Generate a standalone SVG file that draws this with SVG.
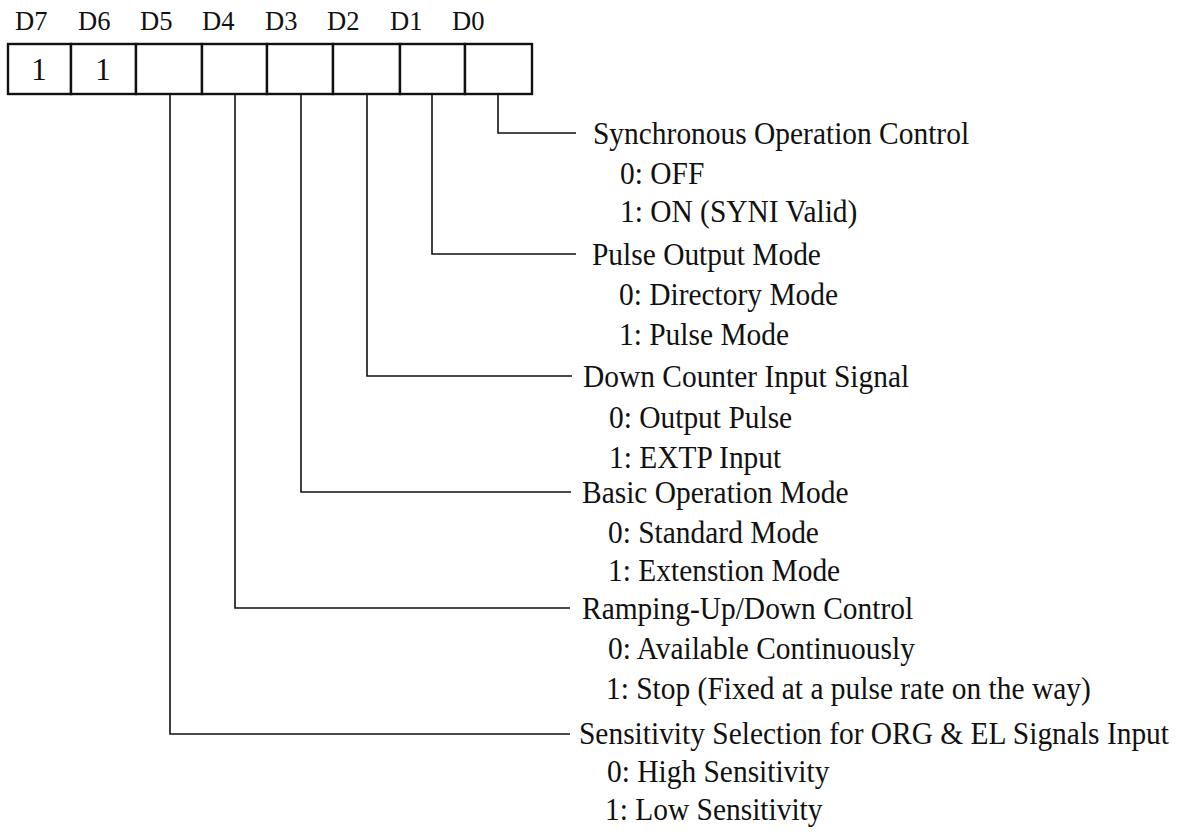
<svg xmlns="http://www.w3.org/2000/svg" width="1201" height="836" viewBox="0 0 1201 836">
<style>
text{font-family:"Liberation Serif","Times New Roman",serif;fill:#111;}
.lbl{font-size:28px;}
.t{font-size:31px;}
.bit{font-size:31px;text-anchor:middle;}
.cell{fill:#fff;stroke:#111;stroke-width:2.4;}
.wire{fill:none;stroke:#111;stroke-width:1.6;}
</style>
<rect width="1201" height="836" fill="#fff"/>
<g id="register">
<g id="labels">
<text class="lbl" transform="translate(15,30) scale(0.95,1)">D7</text>
<text class="lbl" transform="translate(78,30) scale(0.95,1)">D6</text>
<text class="lbl" transform="translate(140,30) scale(0.95,1)">D5</text>
<text class="lbl" transform="translate(202,30) scale(0.95,1)">D4</text>
<text class="lbl" transform="translate(265,30) scale(0.95,1)">D3</text>
<text class="lbl" transform="translate(327,30) scale(0.95,1)">D2</text>
<text class="lbl" transform="translate(390,30) scale(0.95,1)">D1</text>
<text class="lbl" transform="translate(452,30) scale(0.95,1)">D0</text>
</g>
<g id="bit-D7"><rect class="cell" x="8" y="44" width="63" height="50"/><text class="bit" x="39" y="80">1</text></g>
<g id="bit-D6"><rect class="cell" x="71" y="44" width="65" height="50"/><text class="bit" x="103" y="80">1</text></g>
<g id="bit-D5"><rect class="cell" x="136" y="44" width="66" height="50"/></g>
<g id="bit-D4"><rect class="cell" x="202" y="44" width="65" height="50"/></g>
<g id="bit-D3"><rect class="cell" x="267" y="44" width="66" height="50"/></g>
<g id="bit-D2"><rect class="cell" x="333" y="44" width="67" height="50"/></g>
<g id="bit-D1"><rect class="cell" x="400" y="44" width="65" height="50"/></g>
<g id="bit-D0"><rect class="cell" x="465" y="44" width="67" height="50"/></g>
</g>
<g id="connectors">
<polyline class="wire" points="498,94 498,133 576,133"/>
<polyline class="wire" points="432,94 432,254 576,254"/>
<polyline class="wire" points="367,94 367,376 572,376"/>
<polyline class="wire" points="301,94 301,492 571,492"/>
<polyline class="wire" points="235,94 235,608 570,608"/>
<polyline class="wire" points="170,94 170,734 570,734"/>
</g>
<g id="desc-D0">
<text class="t" transform="translate(593,144) scale(0.95,1)">Synchronous Operation Control</text>
<text class="t" transform="translate(620,184) scale(0.95,1)">0: OFF</text>
<text class="t" transform="translate(620,222) scale(0.95,1)">1: ON (SYNI Valid)</text>
</g>
<g id="desc-D1">
<text class="t" transform="translate(592,265) scale(0.95,1)">Pulse Output Mode</text>
<text class="t" transform="translate(619,305) scale(0.95,1)">0: Directory Mode</text>
<text class="t" transform="translate(619,345) scale(0.95,1)">1: Pulse Mode</text>
</g>
<g id="desc-D2">
<text class="t" transform="translate(583,387) scale(0.95,1)">Down Counter Input Signal</text>
<text class="t" transform="translate(609,428) scale(0.95,1)">0: Output Pulse</text>
<text class="t" transform="translate(609,468) scale(0.95,1)">1: EXTP Input</text>
</g>
<g id="desc-D3">
<text class="t" transform="translate(582,503) scale(0.95,1)">Basic Operation Mode</text>
<text class="t" transform="translate(608,543) scale(0.95,1)">0: Standard Mode</text>
<text class="t" transform="translate(608,581) scale(0.95,1)">1: Extenstion Mode</text>
</g>
<g id="desc-D4">
<text class="t" transform="translate(582,619) scale(0.95,1)">Ramping-Up/Down Control</text>
<text class="t" transform="translate(608,659) scale(0.95,1)">0: Available Continuously</text>
<text class="t" transform="translate(606,699) scale(0.95,1)">1: Stop (Fixed at a pulse rate on the way)</text>
</g>
<g id="desc-D5">
<text class="t" transform="translate(579,744) scale(0.95,1)">Sensitivity Selection for ORG &amp; EL Signals Input</text>
<text class="t" transform="translate(607,782) scale(0.95,1)">0: High Sensitivity</text>
<text class="t" transform="translate(605,820) scale(0.95,1)">1: Low Sensitivity</text>
</g>
</svg>
